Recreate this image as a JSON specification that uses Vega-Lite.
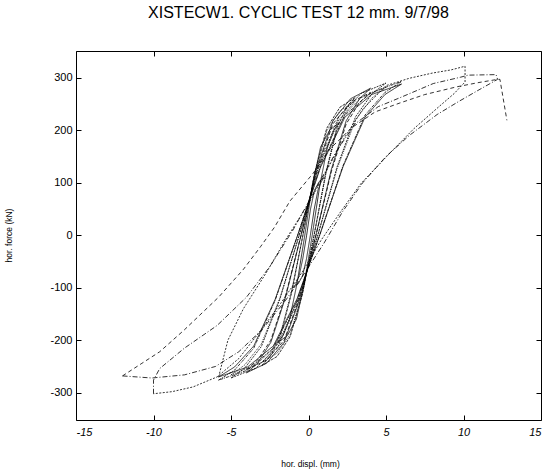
{
  "$schema": "https://vega.github.io/schema/vega-lite/v6.json",
  "width": 465,
  "height": 369,
  "autosize": "none",
  "padding": {"left": 76, "top": 51, "right": 4, "bottom": 52},
  "background": "white",
  "config": {"view": {"stroke": null}, "font": "Liberation Sans"},
  "title": {"text": "XISTECW1. CYCLIC TEST 12 mm. 9/7/98", "fontSize": 16, "fontWeight": "normal", "font": "Liberation Sans", "color": "black", "anchor": "middle", "dx": -10, "offset": 30},
  "data": {"values": [
    {"s":"c1","d":-1,"f":-100},{"s":"c1","d":-0.82,"f":-93},{"s":"c1","d":-0.61,"f":-78},{"s":"c1","d":-0.37,"f":-45},{"s":"c1","d":-0.12,"f":0},{"s":"c1","d":0.13,"f":50},{"s":"c1","d":0.39,"f":86},{"s":"c1","d":0.68,"f":102},{"s":"c1","d":1,"f":110},{"s":"c1","d":0.82,"f":102},{"s":"c1","d":0.61,"f":86},{"s":"c1","d":0.37,"f":50},{"s":"c1","d":0.12,"f":0},{"s":"c1","d":-0.13,"f":-45},{"s":"c1","d":-0.39,"f":-78},{"s":"c1","d":-0.68,"f":-93},{"s":"c1","d":-1,"f":-100},
    {"s":"c2","d":-2,"f":-205},{"s":"c2","d":-1.64,"f":-191},{"s":"c2","d":-1.22,"f":-160},{"s":"c2","d":-0.74,"f":-92},{"s":"c2","d":-0.24,"f":0},{"s":"c2","d":0.26,"f":97},{"s":"c2","d":0.78,"f":168},{"s":"c2","d":1.36,"f":200},{"s":"c2","d":2,"f":215},{"s":"c2","d":1.64,"f":200},{"s":"c2","d":1.22,"f":168},{"s":"c2","d":0.74,"f":97},{"s":"c2","d":0.24,"f":0},{"s":"c2","d":-0.26,"f":-92},{"s":"c2","d":-0.78,"f":-160},{"s":"c2","d":-1.36,"f":-191},{"s":"c2","d":-2,"f":-205},
    {"s":"c3","d":-3,"f":-248},{"s":"c3","d":-2.47,"f":-231},{"s":"c3","d":-1.82,"f":-193},{"s":"c3","d":-1.11,"f":-112},{"s":"c3","d":-0.36,"f":0},{"s":"c3","d":0.39,"f":118},{"s":"c3","d":1.18,"f":204},{"s":"c3","d":2.03,"f":244},{"s":"c3","d":3,"f":262},{"s":"c3","d":2.47,"f":244},{"s":"c3","d":1.82,"f":204},{"s":"c3","d":1.11,"f":118},{"s":"c3","d":0.36,"f":0},{"s":"c3","d":-0.39,"f":-112},{"s":"c3","d":-1.18,"f":-193},{"s":"c3","d":-2.03,"f":-231},{"s":"c3","d":-3,"f":-248},
    {"s":"c3b","d":-3,"f":-242},{"s":"c3b","d":-2.47,"f":-225},{"s":"c3b","d":-1.82,"f":-189},{"s":"c3b","d":-1.11,"f":-109},{"s":"c3b","d":-0.36,"f":0},{"s":"c3b","d":0.39,"f":115},{"s":"c3b","d":1.18,"f":199},{"s":"c3b","d":2.03,"f":237},{"s":"c3b","d":3,"f":255},{"s":"c3b","d":2.47,"f":237},{"s":"c3b","d":1.82,"f":199},{"s":"c3b","d":1.11,"f":115},{"s":"c3b","d":0.36,"f":0},{"s":"c3b","d":-0.39,"f":-109},{"s":"c3b","d":-1.18,"f":-189},{"s":"c3b","d":-2.03,"f":-225},{"s":"c3b","d":-3,"f":-242},
    {"s":"c4","d":-4,"f":-262},{"s":"c4","d":-3.29,"f":-244},{"s":"c4","d":-2.43,"f":-204},{"s":"c4","d":-1.48,"f":-118},{"s":"c4","d":-0.48,"f":0},{"s":"c4","d":0.52,"f":126},{"s":"c4","d":1.57,"f":218},{"s":"c4","d":2.71,"f":260},{"s":"c4","d":4,"f":280},{"s":"c4","d":3.29,"f":260},{"s":"c4","d":2.43,"f":218},{"s":"c4","d":1.48,"f":126},{"s":"c4","d":0.48,"f":0},{"s":"c4","d":-0.52,"f":-118},{"s":"c4","d":-1.57,"f":-204},{"s":"c4","d":-2.71,"f":-244},{"s":"c4","d":-4,"f":-262},
    {"s":"c4b","d":-4,"f":-256},{"s":"c4b","d":-3.29,"f":-238},{"s":"c4b","d":-2.43,"f":-200},{"s":"c4b","d":-1.48,"f":-115},{"s":"c4b","d":-0.48,"f":0},{"s":"c4b","d":0.52,"f":122},{"s":"c4b","d":1.57,"f":212},{"s":"c4b","d":2.71,"f":253},{"s":"c4b","d":4,"f":272},{"s":"c4b","d":3.29,"f":253},{"s":"c4b","d":2.43,"f":212},{"s":"c4b","d":1.48,"f":122},{"s":"c4b","d":0.48,"f":0},{"s":"c4b","d":-0.52,"f":-115},{"s":"c4b","d":-1.57,"f":-200},{"s":"c4b","d":-2.71,"f":-238},{"s":"c4b","d":-4,"f":-256},
    {"s":"c5","d":-5,"f":-272},{"s":"c5","d":-4.11,"f":-253},{"s":"c5","d":-3.04,"f":-212},{"s":"c5","d":-1.85,"f":-122},{"s":"c5","d":-0.6,"f":0},{"s":"c5","d":0.65,"f":131},{"s":"c5","d":1.96,"f":226},{"s":"c5","d":3.39,"f":270},{"s":"c5","d":5,"f":290},{"s":"c5","d":4.11,"f":270},{"s":"c5","d":3.04,"f":226},{"s":"c5","d":1.85,"f":131},{"s":"c5","d":0.6,"f":0},{"s":"c5","d":-0.65,"f":-122},{"s":"c5","d":-1.96,"f":-212},{"s":"c5","d":-3.39,"f":-253},{"s":"c5","d":-5,"f":-272},
    {"s":"c5b","d":-5,"f":-266},{"s":"c5b","d":-4.11,"f":-247},{"s":"c5b","d":-3.04,"f":-207},{"s":"c5b","d":-1.85,"f":-120},{"s":"c5b","d":-0.6,"f":0},{"s":"c5b","d":0.65,"f":127},{"s":"c5b","d":1.96,"f":220},{"s":"c5b","d":3.39,"f":262},{"s":"c5b","d":5,"f":282},{"s":"c5b","d":4.11,"f":262},{"s":"c5b","d":3.04,"f":220},{"s":"c5b","d":1.85,"f":127},{"s":"c5b","d":0.6,"f":0},{"s":"c5b","d":-0.65,"f":-120},{"s":"c5b","d":-1.96,"f":-207},{"s":"c5b","d":-3.39,"f":-247},{"s":"c5b","d":-5,"f":-266},
    {"s":"c6","d":-5.8,"f":-276},{"s":"c6","d":-4.77,"f":-257},{"s":"c6","d":-3.53,"f":-215},{"s":"c6","d":-2.15,"f":-124},{"s":"c6","d":-0.7,"f":0},{"s":"c6","d":0.78,"f":132},{"s":"c6","d":2.35,"f":229},{"s":"c6","d":4.07,"f":272},{"s":"c6","d":6,"f":293},{"s":"c6","d":4.93,"f":272},{"s":"c6","d":3.65,"f":229},{"s":"c6","d":2.22,"f":132},{"s":"c6","d":0.72,"f":0},{"s":"c6","d":-0.75,"f":-124},{"s":"c6","d":-2.27,"f":-215},{"s":"c6","d":-3.93,"f":-257},{"s":"c6","d":-5.8,"f":-276},
    {"s":"c6b","d":-5.8,"f":-270},{"s":"c6b","d":-4.77,"f":-251},{"s":"c6b","d":-3.53,"f":-211},{"s":"c6b","d":-2.15,"f":-122},{"s":"c6b","d":-0.7,"f":0},{"s":"c6b","d":0.78,"f":130},{"s":"c6b","d":2.35,"f":225},{"s":"c6b","d":4.07,"f":268},{"s":"c6b","d":6,"f":288},{"s":"c6b","d":4.93,"f":268},{"s":"c6b","d":3.65,"f":225},{"s":"c6b","d":2.22,"f":130},{"s":"c6b","d":0.72,"f":0},{"s":"c6b","d":-0.75,"f":-122},{"s":"c6b","d":-2.27,"f":-211},{"s":"c6b","d":-3.93,"f":-251},{"s":"c6b","d":-5.8,"f":-270},
    {"s":"c10","d":-5.8,"f":-270},{"s":"c10","d":-5.2,"f":-200},{"s":"c10","d":-4.2,"f":-140},{"s":"c10","d":-2.8,"f":-75},{"s":"c10","d":-1.4,"f":-5},{"s":"c10","d":0,"f":60},{"s":"c10","d":1.2,"f":125},{"s":"c10","d":2.3,"f":185},{"s":"c10","d":3.5,"f":240},{"s":"c10","d":5,"f":285},{"s":"c10","d":6.5,"f":299},{"s":"c10","d":8,"f":309},{"s":"c10","d":9.2,"f":315},{"s":"c10","d":10.1,"f":322},{"s":"c10","d":10.1,"f":292},{"s":"c10","d":9.4,"f":270},{"s":"c10","d":8.3,"f":242},{"s":"c10","d":6.8,"f":203},{"s":"c10","d":5.3,"f":158},{"s":"c10","d":3.4,"f":99},{"s":"c10","d":2.2,"f":50},{"s":"c10","d":0.8,"f":-10},{"s":"c10","d":-0.4,"f":-70},{"s":"c10","d":-1.8,"f":-130},{"s":"c10","d":-3.1,"f":-182},{"s":"c10","d":-4.5,"f":-235},{"s":"c10","d":-5.9,"f":-270},{"s":"c10","d":-7.45,"f":-289},{"s":"c10","d":-8.8,"f":-298},{"s":"c10","d":-10,"f":-302},
    {"s":"c12a","d":-10,"f":-302},{"s":"c12a","d":-10,"f":-276},{"s":"c12a","d":-9.6,"f":-254},{"s":"c12a","d":-8,"f":-215},{"s":"c12a","d":-5.9,"f":-172},{"s":"c12a","d":-4,"f":-118},{"s":"c12a","d":-2.5,"f":-60},{"s":"c12a","d":-1,"f":10},{"s":"c12a","d":0.5,"f":90},{"s":"c12a","d":1.8,"f":160},{"s":"c12a","d":3,"f":212},{"s":"c12a","d":4.5,"f":245},{"s":"c12a","d":5.9,"f":262},{"s":"c12a","d":8.05,"f":289},{"s":"c12a","d":9.8,"f":301},{"s":"c12a","d":10.3,"f":305},{"s":"c12a","d":12.1,"f":306},{"s":"c12a","d":12.2,"f":297},{"s":"c12a","d":11,"f":277},{"s":"c12a","d":9.7,"f":255},{"s":"c12a","d":8.3,"f":230},{"s":"c12a","d":6.5,"f":190},{"s":"c12a","d":5,"f":150},{"s":"c12a","d":3.5,"f":100},{"s":"c12a","d":2.2,"f":45},{"s":"c12a","d":1,"f":-15},{"s":"c12a","d":-0.2,"f":-70},{"s":"c12a","d":-1.5,"f":-125},{"s":"c12a","d":-3,"f":-180},{"s":"c12a","d":-4.5,"f":-222},{"s":"c12a","d":-6,"f":-250},{"s":"c12a","d":-8,"f":-266},{"s":"c12a","d":-10.1,"f":-272},{"s":"c12a","d":-12,"f":-268},
    {"s":"c12b","d":-12,"f":-268},{"s":"c12b","d":-10.8,"f":-245},{"s":"c12b","d":-9.6,"f":-222},{"s":"c12b","d":-8,"f":-180},{"s":"c12b","d":-5.8,"f":-118},{"s":"c12b","d":-4.2,"f":-65},{"s":"c12b","d":-3.1,"f":-22},{"s":"c12b","d":-2.2,"f":15},{"s":"c12b","d":-1.2,"f":65},{"s":"c12b","d":0.3,"f":118},{"s":"c12b","d":1.4,"f":165},{"s":"c12b","d":2.8,"f":205},{"s":"c12b","d":4.3,"f":235},{"s":"c12b","d":5.9,"f":252},{"s":"c12b","d":7.5,"f":268},{"s":"c12b","d":9.6,"f":283},{"s":"c12b","d":11,"f":291},{"s":"c12b","d":12.2,"f":297},{"s":"c12b","d":12.35,"f":297},{"s":"c12b","d":12.8,"f":219}
  ]},
  "layer": [
    {
      "mark": {"type": "line", "color": "black", "strokeWidth": 0.8, "interpolate": "linear", "clip": true},
      "encoding": {
        "x": {"field": "d", "type": "quantitative", "scale": {"domain": [-15, 15], "nice": false, "zero": false},
          "axis": {"orient": "bottom", "values": [-15, -10, -5, 0, 5, 10, 15], "grid": false, "tickSize": -5, "tickColor": "black", "domainColor": "black", "labelPadding": 11, "labelFont": "Liberation Sans", "labelFontSize": 11, "labelFontStyle": "italic", "labelColor": "black", "labelExpr": "replace(datum.label, '−', '-')",
            "title": "hor. displ. (mm)", "titleFont": "Liberation Sans", "titleFontSize": 8.5, "titleFontWeight": "normal", "titleColor": "black", "titleX": 234, "titleY": 43, "titleBaseline": "middle"}},
        "y": {"field": "f", "type": "quantitative", "scale": {"domain": [-352, 351], "nice": false, "zero": false},
          "axis": {"orient": "left", "values": [-300, -200, -100, 0, 100, 200, 300], "grid": false, "tickSize": -5, "tickColor": "black", "domainColor": "black", "labelPadding": 9, "labelFont": "Liberation Sans", "labelFontSize": 11, "labelColor": "black", "labelExpr": "replace(datum.label, '−', '-')",
            "title": "hor. force (kN)", "titleFont": "Liberation Sans", "titleFontSize": 8.5, "titleFontWeight": "normal", "titleColor": "black", "titleX": -68, "titleY": 184, "titleBaseline": "middle", "titleAngle": -90}},
        "detail": {"field": "s", "type": "nominal"},
        "strokeDash": {"field": "s", "type": "nominal", "legend": null,
          "scale": {"domain": ["c1","c2","c3","c3b","c4","c4b","c5","c5b","c6","c6b","c10","c12a","c12b"],
            "range": [[1,0],[1,0],[3,1],[1,1],[1,0],[4,2],[2,1],[1,1],[3,1,1,1],[1,0],[2,1.5],[5,2,1,2],[4,3]]}},
        "order": {"value": null}
      }
    },
    {
      "mark": {"type": "point", "opacity": 0},
      "encoding": {
        "x": {"field": "d", "type": "quantitative", "axis": {"orient": "top", "values": [-15, -10, -5, 0, 5, 10, 15], "labels": false, "grid": false, "tickSize": -5, "tickColor": "black", "domainColor": "black", "title": null}},
        "y": {"field": "f", "type": "quantitative", "axis": {"orient": "right", "values": [-300, -200, -100, 0, 100, 200, 300], "labels": false, "grid": false, "tickSize": -5, "tickColor": "black", "domainColor": "black", "title": null}}
      }
    }
  ],
  "resolve": {"axis": {"x": "independent", "y": "independent"}}
}
